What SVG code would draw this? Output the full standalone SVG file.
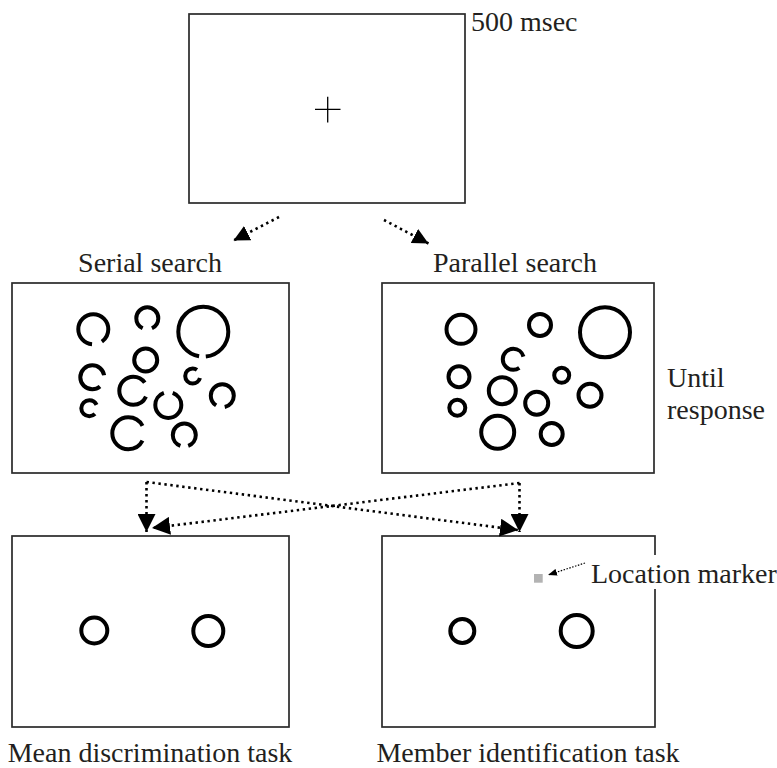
<svg xmlns="http://www.w3.org/2000/svg" width="777" height="768" viewBox="0 0 777 768">
<defs>
<style>
.box{fill:#fff;stroke:#2a2a2a;stroke-width:1.7}
.ring{fill:none;stroke:#000;stroke-width:4}
.lbl{font-family:"Liberation Serif","Times New Roman",serif;font-size:28px;fill:#231f20}
.dot{fill:none;stroke:#000;stroke-width:2.6;stroke-dasharray:2.4 3.6}
.dot2{fill:none;stroke:#000;stroke-width:1.2;stroke-dasharray:1.5 1.5}
</style>
<marker id="ah" viewBox="0 0 16 16" refX="16" refY="8" markerWidth="18" markerHeight="18" markerUnits="userSpaceOnUse" orient="auto">
<path d="M0,0 L16,8 L0,16 z" fill="#000"/>
</marker>
<marker id="ahs" viewBox="0 0 16 16" refX="16" refY="8" markerWidth="16" markerHeight="16" markerUnits="userSpaceOnUse" orient="auto">
<path d="M0,0 L16,8 L0,16 z" fill="#000"/>
</marker>
<marker id="ahx" viewBox="0 0 16 16" refX="16" refY="8" markerWidth="9" markerHeight="7" markerUnits="userSpaceOnUse" orient="auto" preserveAspectRatio="none">
<path d="M0,0 L16,8 L0,16 z" fill="#000"/>
</marker>
</defs>
<rect width="777" height="768" fill="#fff"/>

<g id="fixation">
<rect class="box" x="189" y="14" width="276" height="189"/>
<path d="M315,109.3 H340.5 M327.7,96.7 V122.5" stroke="#000" stroke-width="1.3"/>
<text class="lbl" x="471" y="31">500 msec</text>
</g>

<g id="serial">
<text class="lbl" x="150" y="272" text-anchor="middle">Serial search</text>
<rect class="box" x="12" y="283" width="277" height="190"/>
<circle class="ring" cx="93.3" cy="329.3" r="15" pathLength="360" stroke-dasharray="320 40" stroke-dashoffset="265"/>
<circle class="ring" cx="147.3" cy="318.3" r="11" pathLength="360" stroke-dasharray="310 50" stroke-dashoffset="245"/>
<circle class="ring" cx="203.3" cy="331.7" r="25" pathLength="360" stroke-dasharray="344 16" stroke-dashoffset="260"/>
<circle class="ring" cx="145.7" cy="360" r="11.5"/>
<circle class="ring" cx="192.7" cy="376" r="7.5" pathLength="360" stroke-dasharray="290 70" stroke-dashoffset="345"/>
<circle class="ring" cx="92.3" cy="377.3" r="12" pathLength="360" stroke-dasharray="300 60" stroke-dashoffset="310"/>
<circle class="ring" cx="133.3" cy="390.7" r="14" pathLength="360" stroke-dasharray="300 60" stroke-dashoffset="335"/>
<circle class="ring" cx="168.3" cy="405" r="13" pathLength="360" stroke-dasharray="320 40" stroke-dashoffset="70"/>
<circle class="ring" cx="222.3" cy="395.7" r="11.5" pathLength="360" stroke-dasharray="315 45" stroke-dashoffset="237.5"/>
<circle class="ring" cx="89.3" cy="408.3" r="8" pathLength="360" stroke-dasharray="290 70" stroke-dashoffset="315"/>
<circle class="ring" cx="128.3" cy="433.3" r="16" pathLength="360" stroke-dasharray="305 55" stroke-dashoffset="332.5"/>
<circle class="ring" cx="184.3" cy="435" r="11.5" pathLength="360" stroke-dasharray="320 40" stroke-dashoffset="250"/>
</g>

<g id="parallel">
<text class="lbl" x="515" y="272" text-anchor="middle">Parallel search</text>
<rect class="box" x="382" y="283" width="272" height="190"/>
<circle class="ring" cx="461" cy="329.3" r="14.5"/>
<circle class="ring" cx="540" cy="325" r="11"/>
<circle class="ring" cx="605" cy="332.3" r="25"/>
<circle class="ring" cx="513.3" cy="359.3" r="10.5" pathLength="360" stroke-dasharray="290 70" stroke-dashoffset="305"/>
<circle class="ring" cx="459" cy="376.7" r="10.5"/>
<circle class="ring" cx="561.7" cy="375.3" r="7.5"/>
<circle class="ring" cx="502.3" cy="390.7" r="13.5"/>
<circle class="ring" cx="536.7" cy="403.3" r="11.5"/>
<circle class="ring" cx="590" cy="395.3" r="11.5"/>
<circle class="ring" cx="457.3" cy="407.7" r="8"/>
<circle class="ring" cx="497.7" cy="432.3" r="16.5"/>
<circle class="ring" cx="551.7" cy="434" r="11"/>
<text class="lbl" x="667" y="387">Until</text>
<text class="lbl" x="667" y="419">response</text>
</g>

<g id="mean-task">
<rect class="box" x="12" y="536" width="277" height="191"/>
<circle class="ring" cx="94.3" cy="630.5" r="13"/>
<circle class="ring" cx="208.3" cy="631" r="15"/>
<text class="lbl" x="150" y="762" text-anchor="middle">Mean discrimination task</text>
</g>

<g id="member-task">
<rect class="box" x="382" y="536" width="273" height="191"/>
<circle class="ring" cx="462.3" cy="631" r="12"/>
<circle class="ring" cx="576.7" cy="631" r="16"/>
<rect x="534" y="574" width="8.7" height="8.7" fill="#b3b3b3"/>
<rect x="588" y="555" width="189" height="34" fill="#fff"/>
<text class="lbl" x="591" y="583">Location marker</text>
<text class="lbl" x="528" y="762" text-anchor="middle">Member identification task</text>
</g>

<g id="connectors">
<path class="dot" d="M279,217 L233.5,240.5" marker-end="url(#ahs)"/>
<path class="dot" d="M384,220 L428.5,243.5" marker-end="url(#ahs)"/>
<path class="dot" d="M146.5,482 L146.5,532" marker-end="url(#ah)"/>
<path class="dot" d="M519.5,483 L519.5,532" marker-end="url(#ah)"/>
<path class="dot" d="M146.5,482 L518,530" marker-end="url(#ah)"/>
<path class="dot" d="M519.5,483 L152,528" marker-end="url(#ah)"/>
<path class="dot2" d="M585,563 L548,575" marker-end="url(#ahx)"/>
</g>
</svg>
